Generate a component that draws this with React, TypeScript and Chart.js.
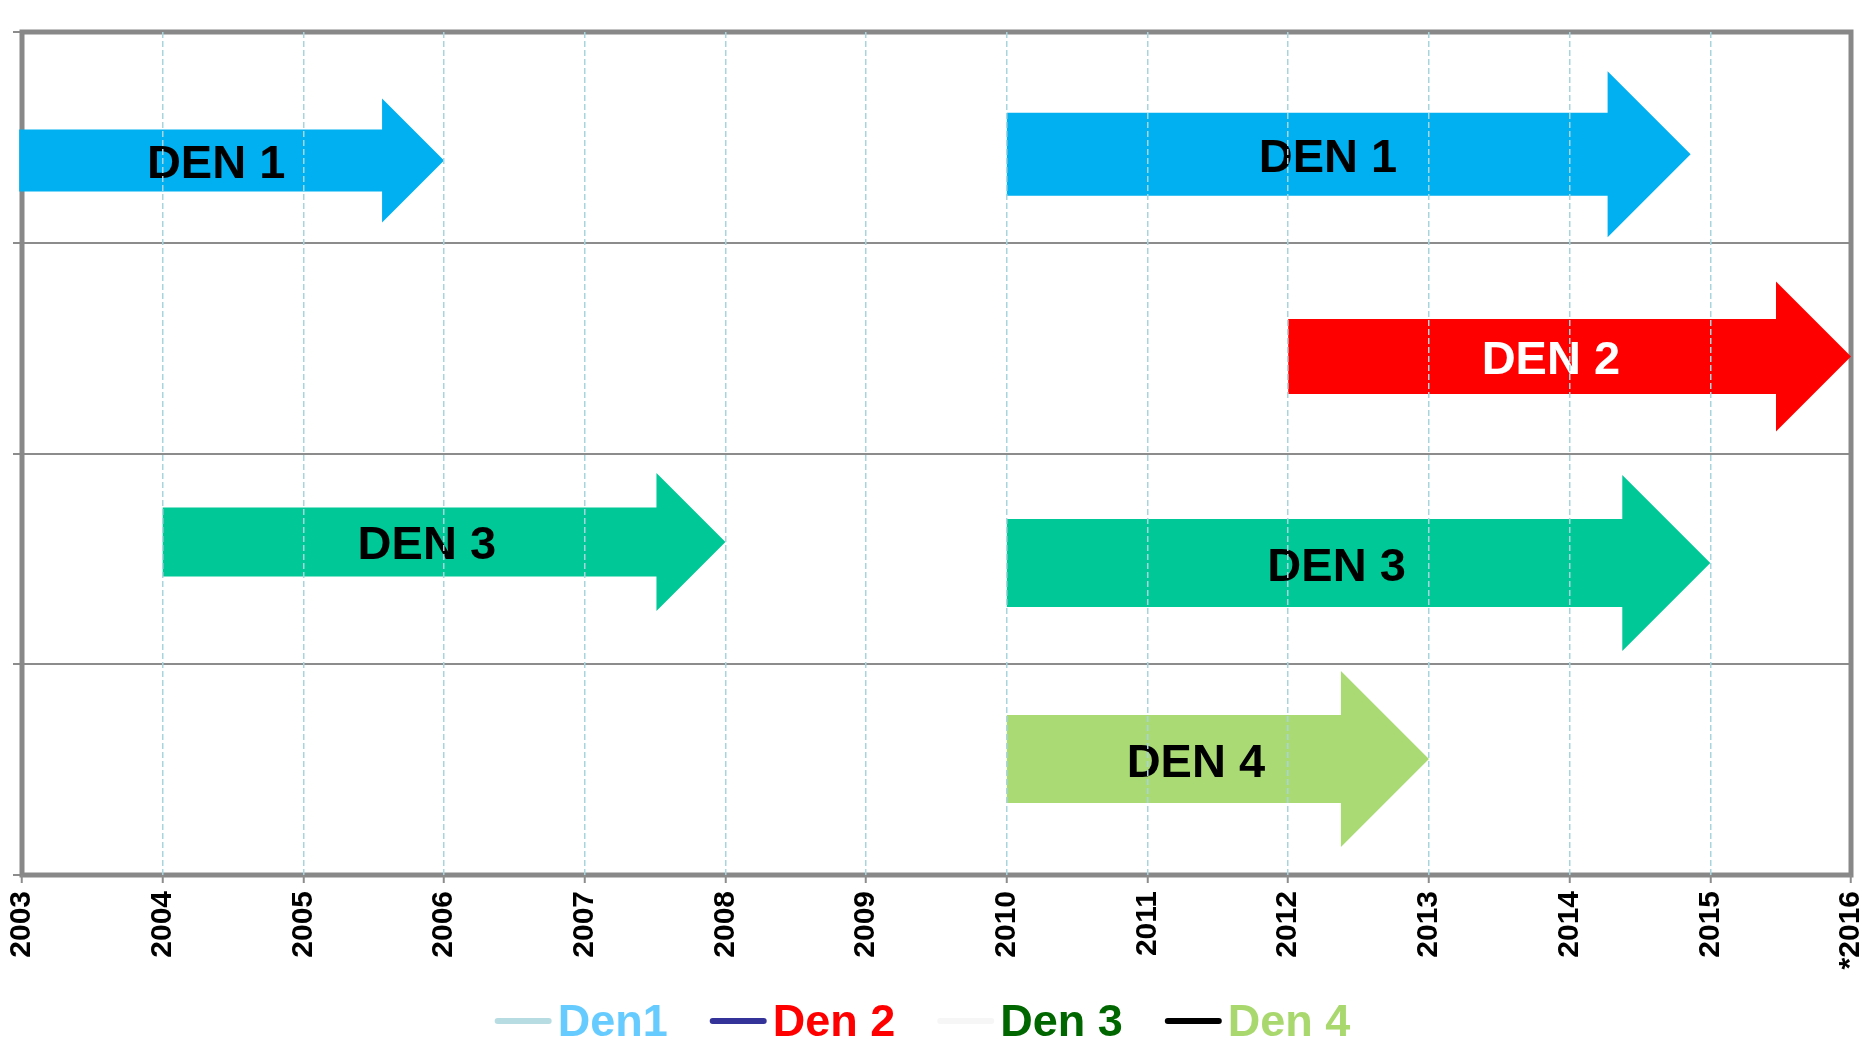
import React, { useEffect, useRef } from 'react';
import { Chart, registerables, BarController, BarElement } from 'chart.js';

Chart.register(...registerables);

// ---------- data ----------
const YEARS = [2003, 2004, 2005, 2006, 2007, 2008, 2009, 2010, 2011, 2012, 2013, 2014, 2015, 2016];
const TICK_LABELS = ['2003', '2004', '2005', '2006', '2007', '2008', '2009', '2010', '2011', '2012', '2013', '2014', '2015', '*2016'];

const ARROW_LABELS = ['DEN 1', 'DEN 1', 'DEN 2', 'DEN 3', 'DEN 3', 'DEN 4'];
const ARROW_START = [2002.98, 2010, 2012, 2004, 2010, 2010];
const ARROW_END = [2006, 2014.86, 2016, 2008, 2015, 2013];
const ARROW_ROW = [0.61, 0.58, 1.54, 2.42, 2.52, 3.45];

const LEGEND_LABELS = ['Den1', 'Den 2', 'Den 3', 'Den 4'];

// ---------- styles ----------
const FONT = "'Liberation Sans', Arial, sans-serif";
const ARROW_COLORS = ['#00b0f0', '#00b0f0', '#ff0000', '#00c896', '#00c896', '#a9da74'];
const ARROW_TEXT_COLORS = ['#000000', '#000000', '#ffffff', '#000000', '#000000', '#000000'];
const ARROW_THICKNESS = [62, 83, 75, 69, 88, 88];
const LEGEND_LINE_COLORS = ['#b7dde2', '#333399', '#f6f6f6', '#000000'];
const LEGEND_TEXT_COLORS = ['#66ccff', '#ff0000', '#006600', '#a9d86f'];
const FRAME_COLOR = '#888888';

// ---------- custom arrow element / controller ----------
class ArrowElement extends BarElement {
  static id = 'arrowShape';
  static defaults = { arrowThickness: 60 };
  draw(ctx: CanvasRenderingContext2D) {
    const p: any = (this as any).getProps(['x', 'y', 'base']);
    const opts: any = (this as any).options;
    const t = opts.arrowThickness;
    const left = Math.min(p.base, p.x);
    const right = Math.max(p.base, p.x);
    const y = p.y;
    const half = t / 2;
    const head = t;
    ctx.save();
    ctx.fillStyle = opts.backgroundColor;
    ctx.beginPath();
    ctx.moveTo(left, y - half);
    ctx.lineTo(right - head, y - half);
    ctx.lineTo(right - head, y - t);
    ctx.lineTo(right, y);
    ctx.lineTo(right - head, y + t);
    ctx.lineTo(right - head, y + half);
    ctx.lineTo(left, y + half);
    ctx.closePath();
    ctx.fill();
    ctx.restore();
  }
}

class ArrowController extends BarController {
  static id = 'arrowBar';
  static defaults = { dataElementType: 'arrowShape' };
}

Chart.register(ArrowElement as any, ArrowController as any);

// ---------- plugins ----------
const framePlugin = {
  id: 'frame',
  beforeDatasetsDraw(chart: any) {
    const { left, top, right, bottom } = chart.chartArea;
    const ctx = chart.ctx;
    ctx.save();
    ctx.strokeStyle = FRAME_COLOR;
    ctx.lineWidth = 5;
    ctx.strokeRect(left, top, right - left, bottom - top);
    ctx.restore();
  },
};

const labelPlugin = {
  id: 'arrowLabels',
  afterDatasetsDraw(chart: any) {
    const meta = chart.getDatasetMeta(0);
    const ctx = chart.ctx;
    ctx.save();
    ctx.font = `bold 47px ${FONT}`;
    ctx.textAlign = 'center';
    ctx.textBaseline = 'middle';
    meta.data.forEach((el: any, i: number) => {
      const p = el.getProps(['x', 'y', 'base'], true);
      const t = el.options.arrowThickness;
      const cx = (p.base + p.x - t / 2) / 2;
      ctx.fillStyle = ARROW_TEXT_COLORS[i];
      ctx.fillText(ARROW_LABELS[i], cx, p.y + 4.5);
    });
    ctx.restore();
  },
};

const legendPlugin = {
  id: 'customLegend',
  afterDraw(chart: any) {
    const ctx = chart.ctx;
    ctx.save();
    ctx.font = `bold 45px ${FONT}`;
    const widths = LEGEND_LABELS.map((l) => ctx.measureText(l).width);
    const markerW = 57;
    const markerGap = 6;
    const itemGap = 42;
    const total = widths.reduce((a, w) => a + markerW + markerGap + w, 0) + itemGap * (LEGEND_LABELS.length - 1);
    let x = (chart.width - total) / 2 - 9;
    const baseY = 1036;
    const lineY = 1021;
    LEGEND_LABELS.forEach((label, i) => {
      ctx.strokeStyle = LEGEND_LINE_COLORS[i];
      ctx.lineWidth = 6;
      ctx.lineCap = 'round';
      ctx.beginPath();
      ctx.moveTo(x + 3, lineY);
      ctx.lineTo(x + markerW - 3, lineY);
      ctx.stroke();
      ctx.fillStyle = LEGEND_TEXT_COLORS[i];
      ctx.textAlign = 'left';
      ctx.textBaseline = 'alphabetic';
      ctx.fillText(label, x + markerW + markerGap, baseY);
      x += markerW + markerGap + widths[i] + itemGap;
    });
    ctx.restore();
  },
};

export default function App() {
  const canvasRef = useRef<HTMLCanvasElement | null>(null);

  useEffect(() => {
    document.body.style.margin = '0';
    document.body.style.overflow = 'hidden';
    const canvas = canvasRef.current;
    if (!canvas) return;

    const chart = new Chart(canvas, {
      type: 'arrowBar' as any,
      data: {
        datasets: [
          {
            data: ARROW_START.map((s, i) => ({ x: [s, ARROW_END[i]], y: ARROW_ROW[i] })),
            backgroundColor: ARROW_COLORS,
            arrowThickness: ARROW_THICKNESS,
            barThickness: 20,
            clip: false,
          } as any,
        ],
      },
      options: {
        indexAxis: 'y',
        animation: false,
        responsive: true,
        maintainAspectRatio: false,
        events: [],
        layout: { padding: { top: 32, right: 12, left: 0, bottom: 0 } },
        plugins: {
          legend: { display: false },
          tooltip: { enabled: false },
        },
        scales: {
          x: {
            type: 'linear',
            min: 2003,
            max: 2016,
            beginAtZero: false,
            offset: false,
            border: { display: false, dash: [6, 3] },
            grid: {
              z: 1,
              lineWidth: 1.5,
              color: (c: any) =>
                c.tick && (c.tick.value === YEARS[0] || c.tick.value === YEARS[YEARS.length - 1])
                  ? 'rgba(0,0,0,0)'
                  : '#a8d5dd',
              drawTicks: true,
              tickLength: 8,
              tickColor: '#8c8c8c',
              tickWidth: 2,
              tickBorderDash: [],
            },
            ticks: {
              stepSize: 1,
              autoSkip: false,
              maxRotation: 90,
              minRotation: 90,
              padding: 8,
              color: '#000000',
              font: { family: FONT, size: 30, weight: 'bold' },
              callback: (v: any) => {
                const idx = YEARS.indexOf(Number(v));
                return idx >= 0 ? TICK_LABELS[idx] : '';
              },
            },
            afterFit: (s: any) => {
              s.height = 166;
              s.paddingLeft = 0;
              s.paddingRight = 0;
            },
          },
          y: {
            type: 'linear',
            min: 0,
            max: 4,
            reverse: true,
            offset: false,
            beginAtZero: false,
            border: { display: false },
            grid: {
              offset: false,
              color: '#8c8c8c',
              lineWidth: 2,
              drawTicks: true,
              tickLength: 9,
              tickColor: '#8c8c8c',
              tickWidth: 2,
            },
            ticks: { stepSize: 1, display: false },
            afterFit: (s: any) => {
              s.width = 22;
              s.paddingTop = 0;
              s.paddingBottom = 0;
            },
          },
        },
      } as any,
      plugins: [framePlugin, labelPlugin, legendPlugin],
    });

    return () => {
      chart.destroy();
    };
  }, []);

  return (
    <div style={{ position: 'relative', width: '1863px', height: '1041px' }}>
      <canvas ref={canvasRef} />
    </div>
  );
}
